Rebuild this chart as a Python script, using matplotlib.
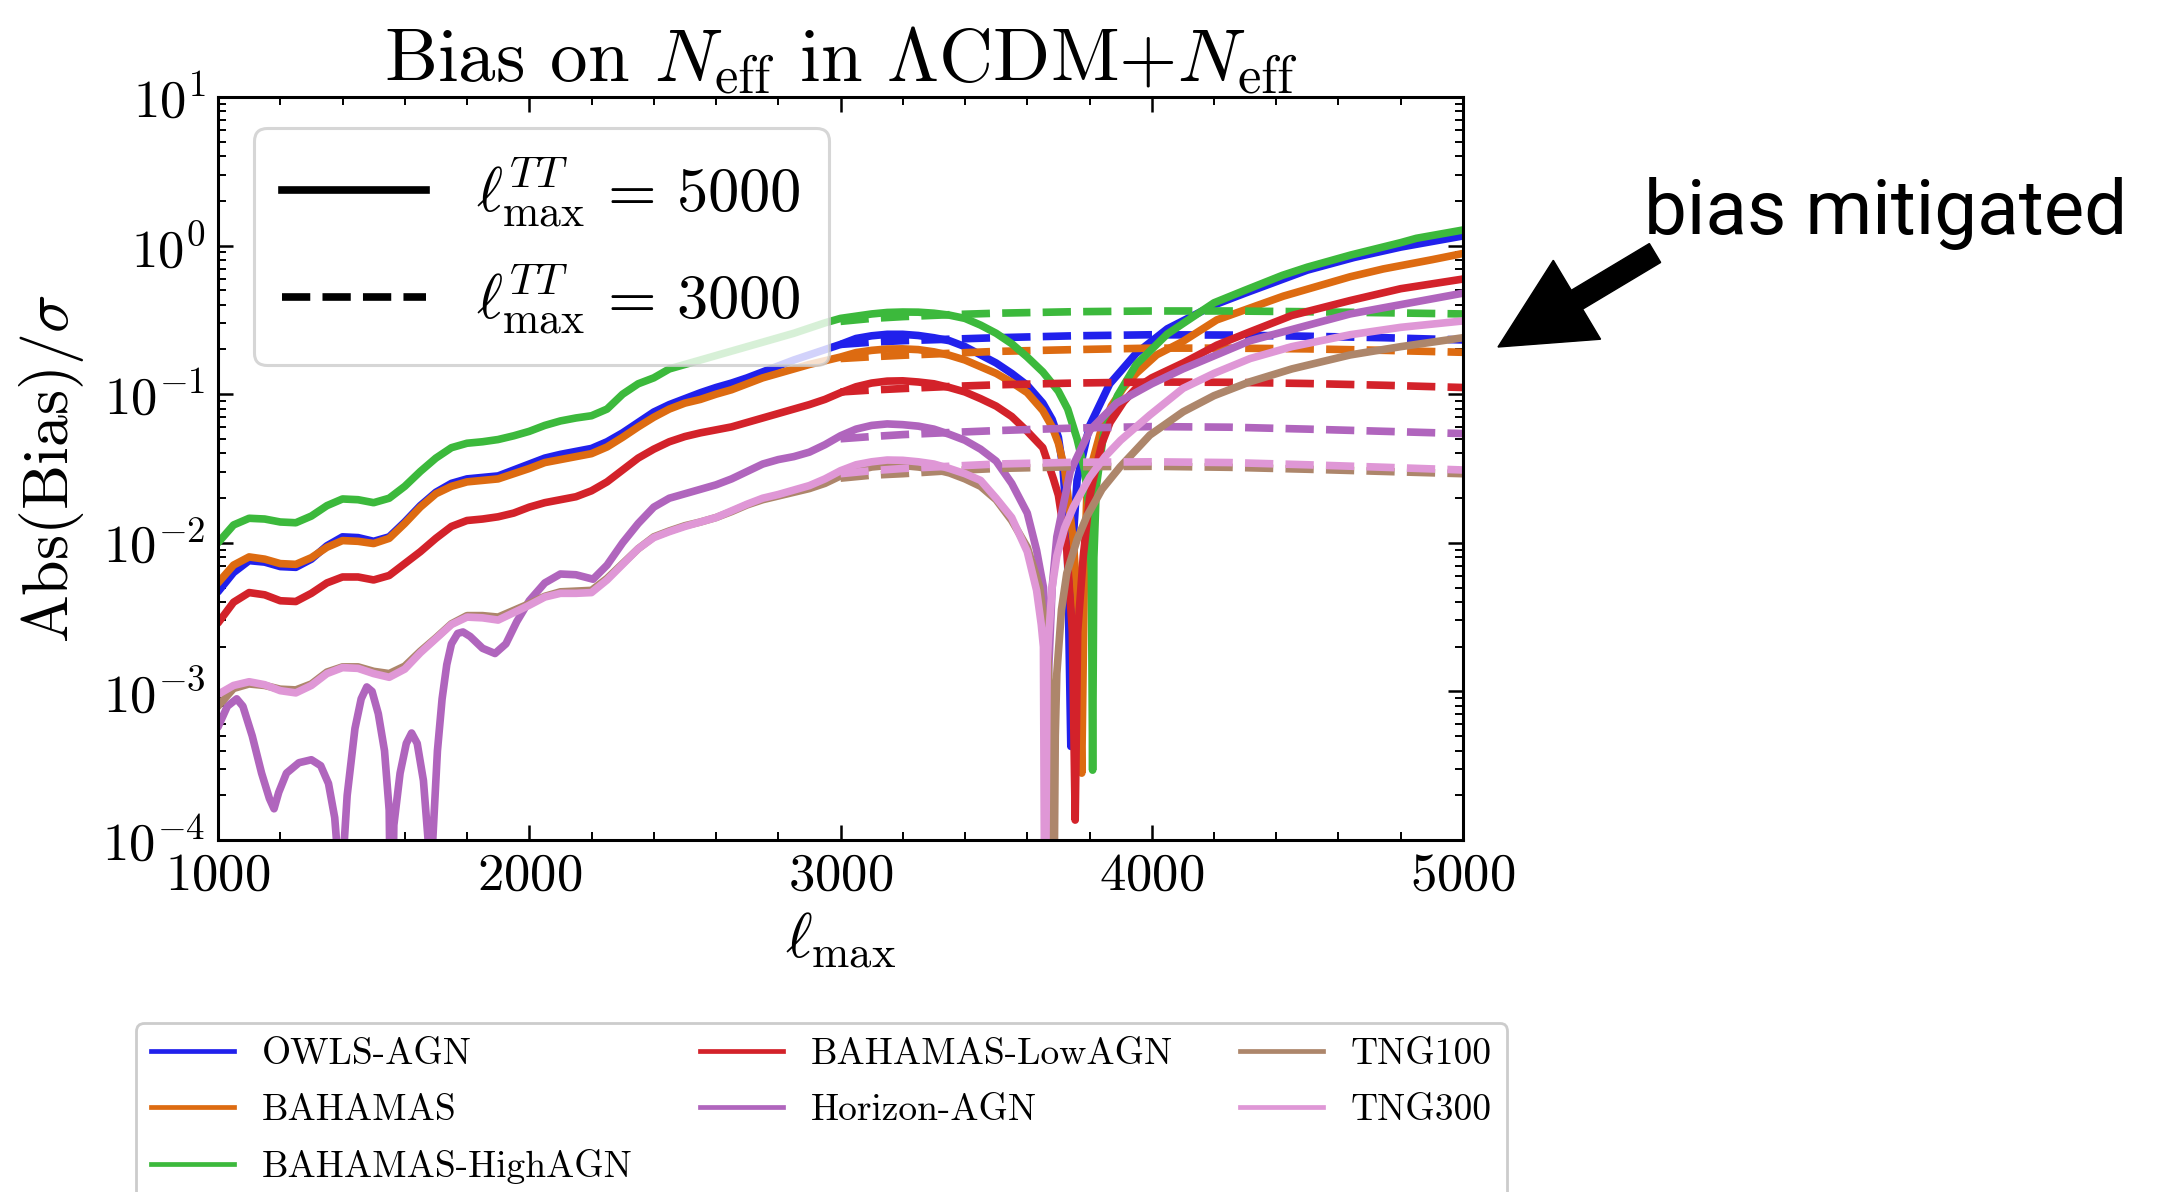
import numpy as np
import matplotlib
matplotlib.use("Agg")
import matplotlib.pyplot as plt
from matplotlib.lines import Line2D
from matplotlib.patches import FancyArrow
from matplotlib.ticker import MultipleLocator, LogLocator, NullFormatter

plt.rcParams['font.family'] = ['cmr10']
plt.rcParams['mathtext.fontset'] = 'cm'
plt.rcParams['axes.unicode_minus'] = False
plt.rcParams['axes.formatter.use_mathtext'] = True

# ---------------- data (log10 of Abs(Bias)/sigma) ----------------
ell_low = list(range(1000, 3601, 50))

# OWLS-AGN (solid, l_max^TT = 5000)
owls_low = [-2.33, -2.20, -2.12, -2.13, -2.16, -2.165, -2.11, -2.02, -1.96, -1.965,
            -1.99, -1.96, -1.86, -1.75, -1.66, -1.60, -1.57, -1.56, -1.55, -1.51,
            -1.47, -1.43, -1.405, -1.385, -1.365, -1.32, -1.26, -1.19, -1.12, -1.07,
            -1.03, -0.99, -0.955, -0.925, -0.89, -0.85, -0.81, -0.77, -0.735, -0.70,
            -0.665, -0.625, -0.607, -0.597, -0.597, -0.605, -0.62, -0.64, -0.68, -0.735,
            -0.79, -0.86, -0.94]
owls_hi_ell = [3650, 3680, 3700, 3715, 3728, 3740, 3750, 3760, 3800, 3865, 3950, 4050,
               4200, 4300, 4500, 4650, 4800, 5000]
owls_hi = [-1.06, -1.17, -1.29, -1.50, -1.90, -3.37, -1.90, -1.58, -1.214, -0.93, -0.725,
           -0.56, -0.40, -0.32, -0.165, -0.08, -0.01, 0.065]

# BAHAMAS
bah_low = [-2.27, -2.15, -2.095, -2.11, -2.14, -2.145, -2.10, -2.03, -1.985, -1.99,
           -2.005, -1.97, -1.87, -1.76, -1.67, -1.62, -1.59, -1.58, -1.57, -1.535,
           -1.50, -1.46, -1.44, -1.42, -1.40, -1.355, -1.29, -1.22, -1.155, -1.10,
           -1.06, -1.035, -1.00, -0.97, -0.93, -0.89, -0.86, -0.83, -0.80, -0.775,
           -0.75, -0.72, -0.705, -0.696, -0.695, -0.70, -0.715, -0.738, -0.77, -0.815,
           -0.86, -0.92, -0.99]
bah_hi_ell = [3650, 3680, 3700, 3720, 3748, 3765, 3775, 3783, 3791, 3810, 3834, 3870,
              3909, 3950, 4016, 4100, 4209, 4316, 4423, 4637, 4744, 4900, 5000]
bah_hi = [-1.11, -1.22, -1.33, -1.50, -1.99, -2.5, -3.55, -2.3, -1.70, -1.45, -1.266,
          -1.08, -0.957, -0.86, -0.735, -0.645, -0.50, -0.42, -0.34, -0.21, -0.157,
          -0.095, -0.053]

# BAHAMAS-HighAGN
high_low = [-2.00, -1.88, -1.835, -1.84, -1.86, -1.865, -1.82, -1.75, -1.705, -1.71,
            -1.73, -1.70, -1.62, -1.52, -1.43, -1.36, -1.33, -1.32, -1.305, -1.28,
            -1.25, -1.21, -1.18, -1.16, -1.145, -1.10, -1.00, -0.93, -0.89, -0.83,
            -0.80, -0.77, -0.74, -0.71, -0.68, -0.65, -0.62, -0.59, -0.555, -0.52,
            -0.49, -0.475, -0.46, -0.45, -0.447, -0.448, -0.455, -0.468, -0.49, -0.535,
            -0.59, -0.66, -0.75]
high_hi_ell = [3650, 3700, 3730, 3760, 3785, 3800, 3806, 3810, 3814, 3822, 3845, 3890,
               3950, 4050, 4200, 4300, 4420, 4500, 4640, 4800, 4850, 5000]
high_hi = [-0.85, -0.98, -1.10, -1.30, -1.52, -1.80, -2.2, -3.53, -2.1, -1.62, -1.27,
           -1.01, -0.80, -0.595, -0.385, -0.30, -0.20, -0.145, -0.063, 0.02, 0.049, 0.105]

# BAHAMAS-LowAGN
low_low = [-2.54, -2.40, -2.335, -2.35, -2.39, -2.395, -2.34, -2.27, -2.23, -2.23,
           -2.25, -2.22, -2.14, -2.06, -1.97, -1.89, -1.85, -1.84, -1.825, -1.80,
           -1.76, -1.73, -1.71, -1.69, -1.65, -1.59, -1.51, -1.43, -1.37, -1.32,
           -1.285, -1.26, -1.24, -1.22, -1.19, -1.16, -1.13, -1.10, -1.07, -1.035,
           -0.99, -0.95, -0.925, -0.912, -0.91, -0.918, -0.93, -0.955, -0.985, -1.03,
           -1.08, -1.15, -1.25]
low_hi_ell = [3650, 3684, 3700, 3727, 3745, 3754, 3762, 3780, 3800, 3812, 3840, 3866,
              3910, 3951, 4000, 4101, 4209, 4316, 4450, 4637, 4800, 5000]
low_hi = [-1.36, -1.57, -1.68, -2.05, -2.6, -3.866, -2.6, -2.09, -1.70, -1.575, -1.33,
          -1.19, -1.05, -0.957, -0.89, -0.79, -0.67, -0.58, -0.47, -0.37, -0.29, -0.225]

# Horizon-AGN
hzn_ell = [1000, 1030, 1060, 1080, 1110, 1140, 1165, 1180, 1195, 1220, 1260, 1300,
           1330, 1355, 1375, 1388, 1394, 1400, 1415, 1440, 1460, 1478, 1495, 1515,
           1535, 1550, 1557, 1565, 1585, 1605, 1622, 1640, 1660, 1675, 1681, 1690,
           1705, 1720, 1735, 1750, 1770, 1787, 1810, 1850, 1890, 1925, 1960, 2000,
           2050, 2100, 2150, 2205, 2250, 2300, 2350, 2400, 2450, 2500, 2550, 2600,
           2650, 2700, 2750, 2800, 2850, 2900, 2950, 3000, 3050, 3100, 3150, 3200,
           3250, 3300, 3350, 3400, 3450, 3500, 3550, 3600, 3630, 3652, 3668, 3680,
           3695, 3738, 3802, 3887, 4000, 4100, 4316, 4637, 5000]
hzn_val = [-3.24, -3.10, -3.05, -3.10, -3.30, -3.55, -3.72, -3.79, -3.68, -3.55, -3.48, -3.46,
           -3.50, -3.62, -3.85, -4.2, -5.0, -4.2, -3.7, -3.25, -3.05, -2.97, -3.0, -3.15,
           -3.4, -3.8, -5.0, -3.9, -3.55, -3.35, -3.28, -3.35, -3.6, -4.0, -5.0, -4.0,
           -3.4, -3.05, -2.82, -2.68, -2.61, -2.60, -2.63, -2.71, -2.745, -2.68, -2.53, -2.39,
           -2.27, -2.21, -2.215, -2.245, -2.15, -2.00, -1.87, -1.76, -1.70, -1.67, -1.64, -1.61,
           -1.57, -1.52, -1.47, -1.44, -1.42, -1.39, -1.34, -1.28, -1.235, -1.21, -1.20, -1.205,
           -1.215, -1.235, -1.27, -1.31, -1.37, -1.45, -1.60, -1.80, -2.05, -2.30, -2.9, -2.3,
           -1.96, -1.52, -1.24, -1.06, -0.93, -0.83, -0.64, -0.46, -0.32]

# TNG100
tng100_low = [-3.10, -2.98, -2.95, -2.96, -2.985, -2.99, -2.95, -2.87, -2.835, -2.835,
              -2.865, -2.88, -2.83, -2.73, -2.64, -2.545, -2.49, -2.49, -2.50, -2.455,
              -2.41, -2.36, -2.33, -2.325, -2.32, -2.24, -2.14, -2.04, -1.96, -1.92,
              -1.885, -1.86, -1.83, -1.79, -1.745, -1.71, -1.685, -1.66, -1.635, -1.60,
              -1.55, -1.515, -1.49, -1.48, -1.48, -1.49, -1.505, -1.53, -1.57, -1.62,
              -1.71, -1.85, -2.03]
tng100_hi_ell = [3640, 3665, 3678, 3684, 3690, 3695, 3710, 3727, 3760, 3791, 3840, 3898,
                 3994, 4101, 4200, 4316, 4450, 4637, 4800, 5000]
tng100_hi = [-2.3, -2.7, -3.3, -5.0, -3.3, -2.88, -2.45, -2.205, -1.98, -1.824, -1.64,
             -1.49, -1.275, -1.118, -1.01, -0.916, -0.83, -0.736, -0.68, -0.62]

# TNG300
tng300_low = [-3.02, -2.96, -2.935, -2.955, -2.995, -3.01, -2.96, -2.88, -2.84, -2.845,
              -2.88, -2.905, -2.85, -2.74, -2.645, -2.55, -2.50, -2.505, -2.52, -2.47,
              -2.42, -2.365, -2.34, -2.34, -2.335, -2.25, -2.145, -2.04, -1.965, -1.925,
              -1.89, -1.86, -1.83, -1.785, -1.74, -1.70, -1.675, -1.645, -1.615, -1.57,
              -1.515, -1.475, -1.455, -1.443, -1.445, -1.455, -1.47, -1.50, -1.535, -1.58,
              -1.70, -1.83, -2.06]
tng300_hi_ell = [3630, 3645, 3652, 3657, 3664, 3668, 3680, 3695, 3720, 3748, 3800, 3850,
                 3900, 3994, 4101, 4200, 4316, 4450, 4637, 4800, 5000]
tng300_hi = [-2.32, -2.55, -2.70, -5.0, -2.8, -2.65, -2.30, -2.09, -1.90, -1.76, -1.56,
             -1.42, -1.31, -1.14, -0.96, -0.86, -0.76, -0.68, -0.60, -0.55, -0.507]

# dashed curves (l_max^TT = 3000)
ell_dash = [3000, 3100, 3200, 3350, 3500, 3750, 4000, 4250, 4500, 4750, 5000]
owls_dash = [-0.665, -0.65, -0.64, -0.63, -0.62, -0.607, -0.60, -0.602, -0.61, -0.62, -0.635]
bah_dash = [-0.76, -0.748, -0.738, -0.725, -0.712, -0.70, -0.69, -0.69, -0.695, -0.705, -0.718]
high_dash = [-0.51, -0.49, -0.478, -0.465, -0.455, -0.445, -0.44, -0.44, -0.445, -0.452, -0.46]
low_dash = [-0.985, -0.972, -0.962, -0.948, -0.937, -0.925, -0.918, -0.92, -0.928, -0.94, -0.955]
hzn_dash = [-1.30, -1.285, -1.272, -1.258, -1.245, -1.228, -1.218, -1.222, -1.235, -1.25, -1.265]
tng100_dash = [-1.565, -1.545, -1.535, -1.515, -1.50, -1.488, -1.485, -1.492, -1.505, -1.52, -1.535]
tng300_dash = [-1.535, -1.515, -1.50, -1.485, -1.47, -1.458, -1.455, -1.46, -1.475, -1.492, -1.51]

names = ['OWLS-AGN', 'BAHAMAS', 'BAHAMAS-HighAGN', 'BAHAMAS-LowAGN',
         'Horizon-AGN', 'TNG100', 'TNG300']
colors = ['#2121ec', '#dd6b11', '#3cb93c', '#d3222a', '#b065bd', '#ad866b', '#df97d6']

solid_x = [ell_low + owls_hi_ell, ell_low + bah_hi_ell, ell_low + high_hi_ell,
           ell_low + low_hi_ell, hzn_ell, ell_low + tng100_hi_ell, ell_low + tng300_hi_ell]
solid_y = [owls_low + owls_hi, bah_low + bah_hi, high_low + high_hi, low_low + low_hi,
           hzn_val, tng100_low + tng100_hi, tng300_low + tng300_hi]
dash_y = [owls_dash, bah_dash, high_dash, low_dash, hzn_dash, tng100_dash, tng300_dash]

# ---------------- figure ----------------
W, H = 2157, 1192
fig = plt.figure(figsize=(W / 100, H / 100), dpi=100)
ax = fig.add_axes([218 / W, (H - 840) / H, (1463 - 218) / W, (840 - 97) / H])

LW = 5.5
for x, y, yd, c in zip(solid_x, solid_y, dash_y, colors):
    ax.plot(x, 10 ** np.array(y), color=c, lw=LW, solid_capstyle='round')
    ax.plot(ell_dash, 10 ** np.array(yd), color=c, lw=LW, ls='--')

ax.set_yscale('log')
ax.set_xlim(1000, 5000)
ax.set_ylim(1e-4, 10)
ax.xaxis.set_major_locator(MultipleLocator(1000))
ax.xaxis.set_minor_locator(MultipleLocator(200))
ax.yaxis.set_major_locator(LogLocator(base=10, numticks=20))
ax.yaxis.set_minor_locator(LogLocator(base=10, subs=np.arange(2, 10), numticks=100))
ax.yaxis.set_minor_formatter(NullFormatter())
ax.tick_params(which='both', direction='in', top=True, right=True, labelsize=38, pad=9)
ax.tick_params(which='major', length=11, width=1.8)
ax.tick_params(which='minor', length=6, width=1.4)
for s in ax.spines.values():
    s.set_linewidth(2.2)

ax.set_xlabel(r'$\ell_{\rm max}$', fontsize=46, labelpad=8)
ax.set_ylabel(r'${\rm Abs(Bias)}/\sigma$', fontsize=46, labelpad=12)
ax.set_title(r'Bias on $N_{\rm eff}$ in $\Lambda$CDM+$N_{\rm eff}$', fontsize=54, pad=6)

# legend for line styles
style_handles = [Line2D([], [], color='k', lw=LW, ls='-'),
                 Line2D([], [], color='k', lw=LW, ls='--')]
style_labels = [r'$\ell_{\rm max}^{TT}\,=\,5000$', r'$\ell_{\rm max}^{TT}\,=\,3000$']
leg1 = ax.legend(style_handles, style_labels, loc='upper left',
                 bbox_to_anchor=((254 - 218) / 1245, 1 - (128 - 97) / 743),
                 borderaxespad=0, fontsize=45, handlelength=2.3, handletextpad=0.8,
                 borderpad=0.45, labelspacing=0.52, frameon=True, fancybox=True,
                 framealpha=0.8, edgecolor='0.8')
leg1.get_frame().set_linewidth(2.2)

# legend for simulations
sim_handles = [Line2D([], [], color=c, lw=3.4) for c in colors]
leg2 = fig.legend(sim_handles, names, loc='upper left', ncol=3,
                  bbox_to_anchor=(136 / W, 1 - 1023 / H), borderaxespad=0,
                  fontsize=27, handlelength=2.2, handletextpad=0.75,
                  columnspacing=1.8, labelspacing=0.6, borderpad=0.4,
                  fancybox=True, framealpha=1.0, edgecolor='0.8')
leg2.get_frame().set_linewidth(2.0)

# annotation
fig.text(1644 / W, (H - 234) / H, 'bias mitigated', family=['Roboto', 'DejaVu Sans'],
         weight='normal', fontsize=55, ha='left', va='baseline')
arrow = FancyArrow(16.55, (H - 253) / 100, 14.98 - 16.55, (253 - 347) / 100,
                   width=0.22, head_width=0.92, head_length=0.92,
                   length_includes_head=True, color='k',
                   transform=fig.dpi_scale_trans)
fig.patches.append(arrow)

fig.savefig('out.png', dpi=100)
